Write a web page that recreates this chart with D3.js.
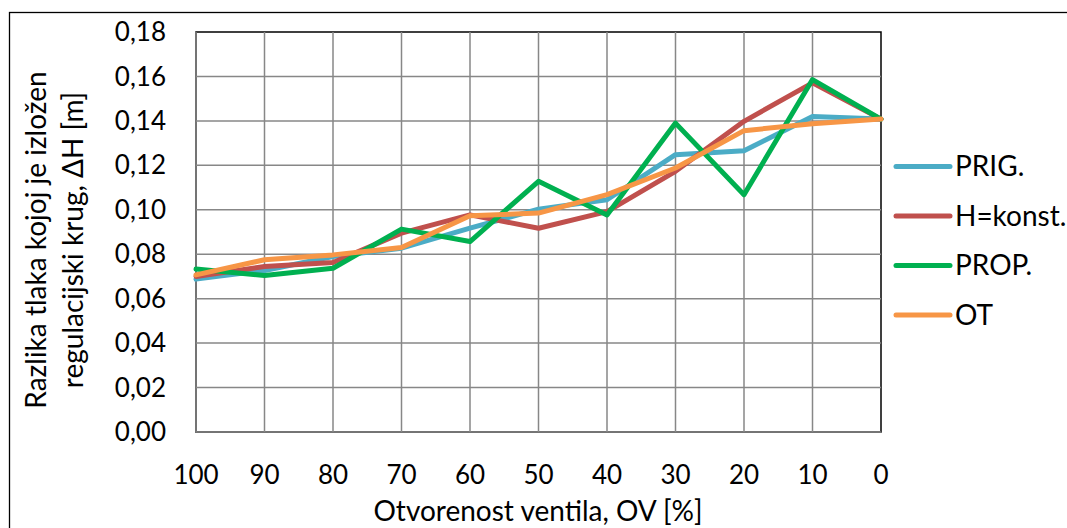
<!DOCTYPE html>
<html>
<head>
<meta charset="utf-8">
<script src="https://cdn.jsdelivr.net/npm/d3@7"></script>
<style>
  body { margin: 0; background: #fff; }
  svg { display: block; font-family: Lato, "Open Sans", sans-serif; }
</style>
</head>
<body>
<div id="chart"></div>
<script>
// otvorenost ventila (x os, obrnuti redoslijed)
var categories = ["100", "90", "80", "70", "60", "50", "40", "30", "20", "10", "0"];
var seriesNames = ["PRIG.", "H=konst.", "PROP.", "OT"];
var prig   = [0.0688, 0.0727, 0.0790, 0.0827, 0.0917, 0.1003, 0.1045, 0.1248, 0.1266, 0.1420, 0.1408];
var hkonst = [0.0700, 0.0745, 0.0763, 0.0895, 0.0977, 0.0917, 0.0992, 0.1173, 0.1398, 0.1571, 0.1408];
var prop   = [0.0733, 0.0704, 0.0737, 0.0913, 0.0857, 0.1128, 0.0977, 0.1390, 0.1068, 0.1586, 0.1408];
var ot     = [0.0707, 0.0775, 0.0797, 0.0830, 0.0973, 0.0985, 0.1068, 0.1188, 0.1356, 0.1387, 0.1408];
var yTicks = [0, 0.02, 0.04, 0.06, 0.08, 0.10, 0.12, 0.14, 0.16, 0.18];
var colors = ["#4BACC6", "#C0504D", "#00B050", "#F79646"];

var W = 1067, H = 528;
var plot = {left: 196, right: 881, top: 32, bottom: 432};

var svg = d3.select("#chart").append("svg")
    .attr("width", W).attr("height", H);

// outer chart border (cut at right and bottom)
svg.append("rect")
    .attr("x", 9.5).attr("y", 12.5)
    .attr("width", W + 20).attr("height", H + 20)
    .attr("fill", "none").attr("stroke", "#000").attr("stroke-width", 1.3);

var x = d3.scalePoint().domain(categories).range([plot.left, plot.right]);
var y = d3.scaleLinear().domain([0, 0.18]).range([plot.bottom, plot.top]);

// plot area frame
svg.append("rect")
    .attr("x", plot.left).attr("y", plot.top)
    .attr("width", plot.right - plot.left).attr("height", plot.bottom - plot.top)
    .attr("fill", "none").attr("stroke", "#000").attr("stroke-width", 1.5);

// grid
var grid = svg.append("g").attr("stroke", "#878787").attr("stroke-width", 1.5);
grid.selectAll("line.h")
    .data(yTicks.slice(0, -1))
    .enter().append("line")
    .attr("x1", plot.left).attr("x2", plot.right)
    .attr("y1", d => y(d)).attr("y2", d => y(d));
grid.selectAll("line.v")
    .data(categories.slice(0, -1))
    .enter().append("line")
    .attr("x1", d => x(d)).attr("x2", d => x(d))
    .attr("y1", plot.top).attr("y2", plot.bottom);

// y axis labels
var fmt = d3.format(".2f");
svg.append("g")
    .selectAll("text")
    .data(yTicks)
    .enter().append("text")
    .attr("x", 166)
    .attr("y", d => y(d))
    .attr("dy", "0.35em")
    .attr("text-anchor", "end")
    .attr("font-size", 26)
    .attr("fill", "#000")
    .text(d => fmt(d).replace(".", ","));

// x axis labels
svg.append("g")
    .selectAll("text")
    .data(categories)
    .enter().append("text")
    .attr("x", d => x(d))
    .attr("y", 475)
    .attr("dy", "0.35em")
    .attr("text-anchor", "middle")
    .attr("font-size", 26)
    .attr("fill", "#000")
    .text(d => d);

// axis titles
svg.append("text")
    .attr("x", 538)
    .attr("y", 511)
    .attr("dy", "0.35em")
    .attr("text-anchor", "middle")
    .attr("font-size", 28)
    .text("Otvorenost ventila, OV [%]");

var yTitle = svg.append("text")
    .attr("transform", "translate(0,240) rotate(-90)")
    .attr("text-anchor", "middle")
    .attr("font-size", 28);
yTitle.append("tspan").attr("x", 0).attr("y", 46).text("Razlika tlaka kojoj je izložen");
yTitle.append("tspan").attr("x", 0).attr("y", 83).text("regulacijski krug, ΔH [m]");

// lines
var allSeries = [prig, hkonst, prop, ot];
var line = d3.line()
    .x((d, i) => x(categories[i]))
    .y(d => y(d));

svg.append("g")
    .selectAll("path")
    .data(allSeries)
    .enter().append("path")
    .attr("d", d => line(d))
    .attr("fill", "none")
    .attr("stroke", (d, i) => colors[i])
    .attr("stroke-width", 5)
    .attr("stroke-linejoin", "round")
    .attr("stroke-linecap", "round");

// legend
var legend = svg.append("g")
    .selectAll("g")
    .data(seriesNames)
    .enter().append("g")
    .attr("transform", (d, i) => "translate(0," + (166.5 + i * 49.5) + ")");
legend.append("line")
    .attr("x1", 896).attr("x2", 950)
    .attr("stroke", (d, i) => colors[i])
    .attr("stroke-width", 5)
    .attr("stroke-linecap", "round");
legend.append("text")
    .attr("x", 955)
    .attr("dy", "0.35em")
    .attr("font-size", 28)
    .text(d => d);
</script>
</body>
</html>
